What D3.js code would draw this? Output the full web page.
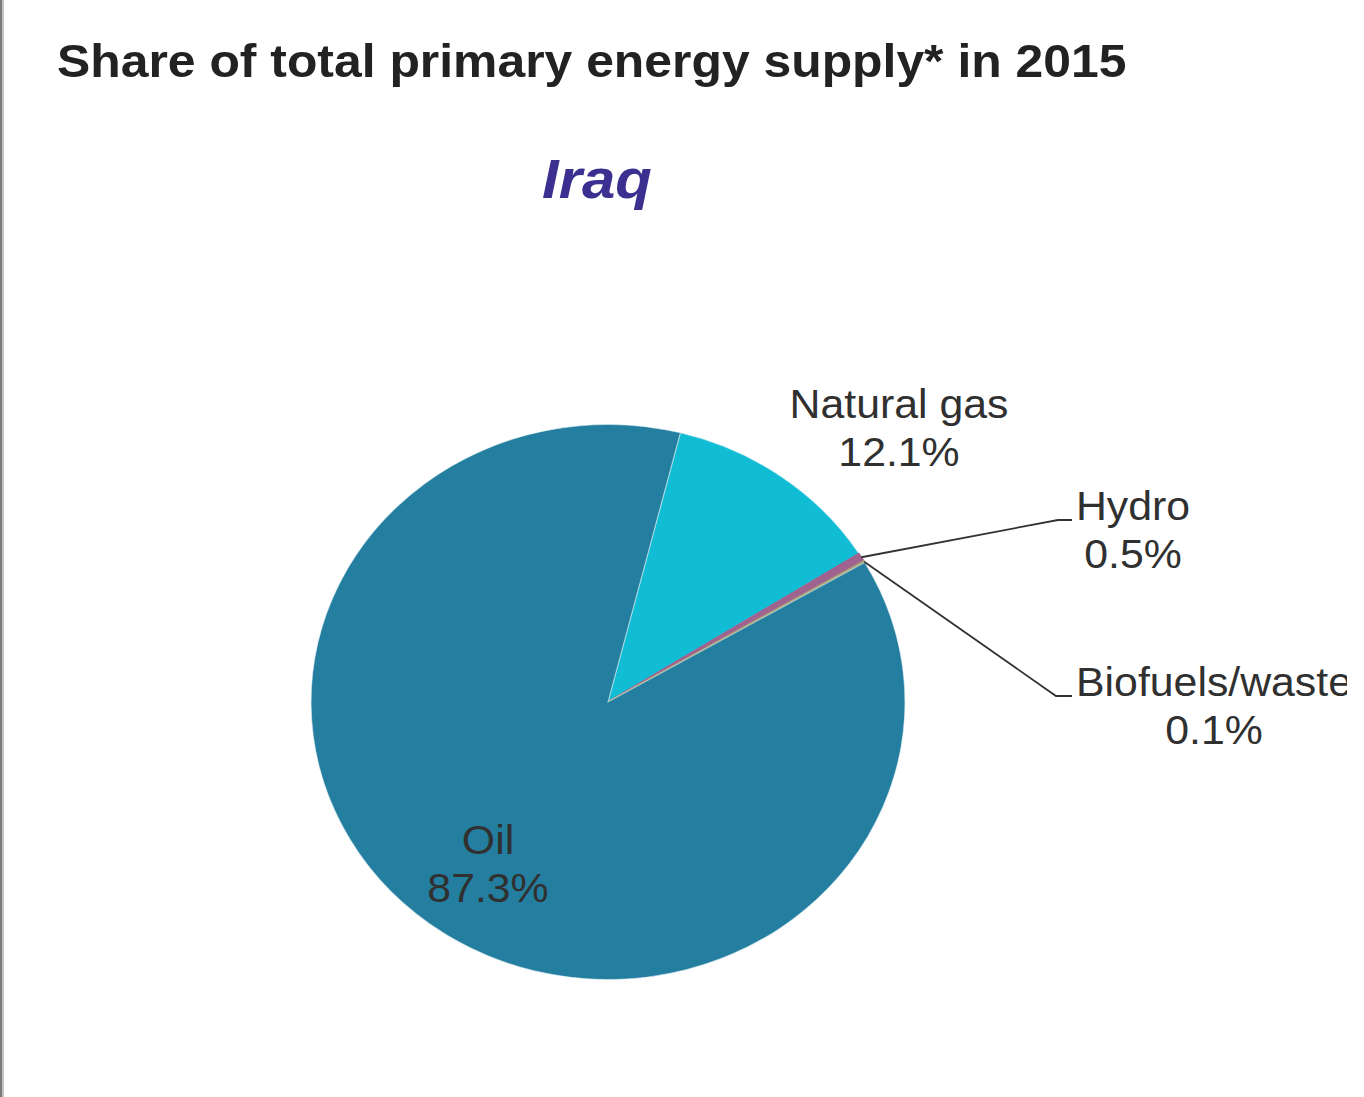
<!DOCTYPE html>
<html>
<head>
<meta charset="utf-8">
<script src="https://cdn.jsdelivr.net/npm/d3@7"></script>
<style>
  body { margin: 0; background: #fff; }
  text { font-family: "Liberation Sans", Arial, sans-serif; }
</style>
</head>
<body>
<div class="chart"></div>
<script>
// data (clockwise from the gas/oil boundary)
var categories = ['Natural gas', 'Hydro', 'Biofuels/waste', 'Oil'];
var shares = [12.1, 0.5, 0.1, 87.3];
var shareLabels = ['12.1%', '0.5%', '0.1%', '87.3%'];
var colors = ['#10bdd5', '#a0628f', '#aba77a', '#247e9f'];

var width = 1364, height = 1097;
var sx = 1.07;            // the original is stretched a bit sideways
var cx = 608, cy = 702, r = 277.5;

var svg = d3.select('.chart')
  .append('svg')
    .attr('width', width)
    .attr('height', height);

svg.append('clipPath').attr('id', 'clip')
  .append('rect').attr('width', 1347).attr('height', height);

var root = svg.append('g').attr('clip-path', 'url(#clip)');

// left page border
root.append('rect').attr('x', 0).attr('y', 0).attr('width', 2).attr('height', height).attr('fill', '#7a7a7a');
root.append('rect').attr('x', 2).attr('y', 0).attr('width', 2).attr('height', height).attr('fill', '#c4c4c4');

function stretchedText(x, y, str, size, opts) {
  opts = opts || {};
  return root.append('text')
    .attr('transform', `translate(${x}, ${y}) scale(${sx}, 1)`)
    .attr('text-anchor', opts.anchor || 'middle')
    .attr('font-size', size)
    .attr('font-weight', opts.weight || 'normal')
    .attr('font-style', opts.style || 'normal')
    .attr('fill', opts.fill || '#303030')
    .text(str);
}

stretchedText(57, 77, 'Share of total primary energy supply* in 2015', 46.6,
  {anchor: 'start', weight: 'bold', fill: '#222'});
stretchedText(597, 198, 'Iraq', 56, {weight: 'bold', style: 'italic', fill: '#3b2f8f'});

var data = categories.map((c, i) => ({name: c, value: shares[i], label: shareLabels[i], color: colors[i]}));

var startAngle = 14.1 * Math.PI / 180;
var pie = d3.pie()
  .sort(null)
  .value(d => d.value)
  .startAngle(startAngle)
  .endAngle(startAngle + 2 * Math.PI);

var arcs = pie(data);
var arc = d3.arc().innerRadius(0).outerRadius(r);

var pieG = root.append('g')
  .attr('transform', `translate(${cx}, ${cy}) scale(${sx}, 1)`);

pieG.selectAll('path')
  .data(arcs)
  .enter()
  .append('path')
    .attr('d', arc)
    .attr('fill', d => d.data.color)
    .attr('stroke', d => d.data.value < 1 ? d.data.color : 'rgba(225,240,245,0.55)')
    .attr('stroke-width', d => d.data.value < 1 ? 1.5 : 1);

// label layout (screen coords): name baseline, centre x, leader kink
var labelPos = {
  'Natural gas':    {x: 899, y: 418},
  'Hydro':          {x: 1133, y: 520, leader: [1058, 520, 1072]},
  'Biofuels/waste': {x: 1214, y: 696, leader: [1056, 696, 1072]},
  'Oil':            {x: 488, y: 854}
};

arcs.forEach(function(a) {
  var p = labelPos[a.data.name];
  if (p.leader) {
    var mid = (a.startAngle + a.endAngle) / 2;
    var x0 = cx + sx * r * Math.sin(mid);
    var y0 = cy - r * Math.cos(mid);
    root.append('path')
      .attr('d', `M${x0},${y0}L${p.leader[0]},${p.leader[1]}L${p.leader[2]},${p.leader[1]}`)
      .attr('fill', 'none')
      .attr('stroke', '#333')
      .attr('stroke-width', 1.8);
  }
  stretchedText(p.x, p.y, a.data.name, 40);
  stretchedText(p.x, p.y + 48, a.data.label, 40);
});
</script>
</body>
</html>
